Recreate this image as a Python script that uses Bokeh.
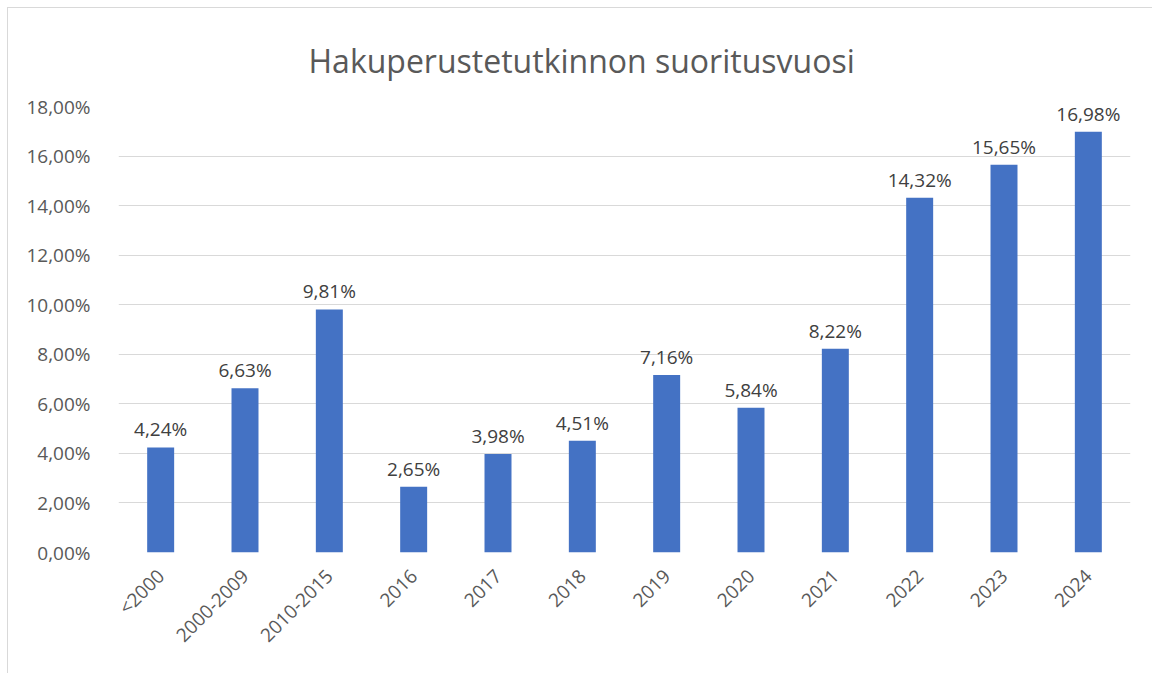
from bokeh.plotting import figure
from bokeh.models import ColumnDataSource, CustomJSTickFormatter, FixedTicker, LabelSet
from bokeh.core.properties import value
from bokeh.embed import file_html
from bokeh.resources import INLINE
import math

categories = ["<2000", "2000-2009", "2010-2015", "2016", "2017", "2018", "2019",
              "2020", "2021", "2022", "2023", "2024"]
values = [4.24, 6.63, 9.81, 2.65, 3.98, 4.51, 7.16, 5.84, 8.22, 14.32, 15.65, 16.98]
labels = [f"{v:.2f}".replace(".", ",") + "%" for v in values]
title_text = "Hakuperustetutkinnon suoritusvuosi"

FONT = "Open Sans"

src = ColumnDataSource(dict(cat=categories, val=values, lab=labels))

p = figure(x_range=categories, y_range=(0, 18), width=1144, height=665,
           output_backend="svg", toolbar_location=None, title=title_text,
           min_border_left=110, min_border_right=22, min_border_top=98, min_border_bottom=121)
p.styles = {"margin-left": "8px", "margin-top": "8px", "outline": "1px solid #D9D9D9"}
p.outline_line_color = None
p.background_fill_color = "white"
p.border_fill_color = "white"

p.title.align = "left"
p.title.text_font = FONT
p.title.text_font_size = "32px"
p.title.text_font_style = "normal"
p.title.text_color = "#595959"
p.title.standoff = 50
p.title.padding = 0
p.title.offset = 190

p.vbar(x="cat", top="val", width=0.32, source=src, fill_color="#4472C4", line_color=None)

p.add_layout(LabelSet(x="cat", y="val", text="lab", source=src, text_align="center",
                      text_baseline="bottom", y_offset=5, text_font=value(FONT),
                      text_font_size="19px", text_color="#404040"))

p.xgrid.grid_line_color = None
p.ygrid.grid_line_color = "#D9D9D9"
p.ygrid.grid_line_width = 1

p.yaxis.ticker = FixedTicker(ticks=[0, 2, 4, 6, 8, 10, 12, 14, 16, 18])
p.yaxis.formatter = CustomJSTickFormatter(code="return tick.toFixed(2).replace('.', ',') + '%';")
for ax in (p.xaxis, p.yaxis):
    ax.axis_line_color = None
    ax.major_tick_line_color = None
    ax.minor_tick_line_color = None
    ax.major_label_text_font = FONT
    ax.major_label_text_font_size = "19px"
    ax.major_label_text_color = "#595959"
p.yaxis.major_label_standoff = 22
p.xaxis.major_label_orientation = math.pi / 4
p.xaxis.major_label_standoff = 14

open("out.html", "w").write(file_html(p, INLINE))
